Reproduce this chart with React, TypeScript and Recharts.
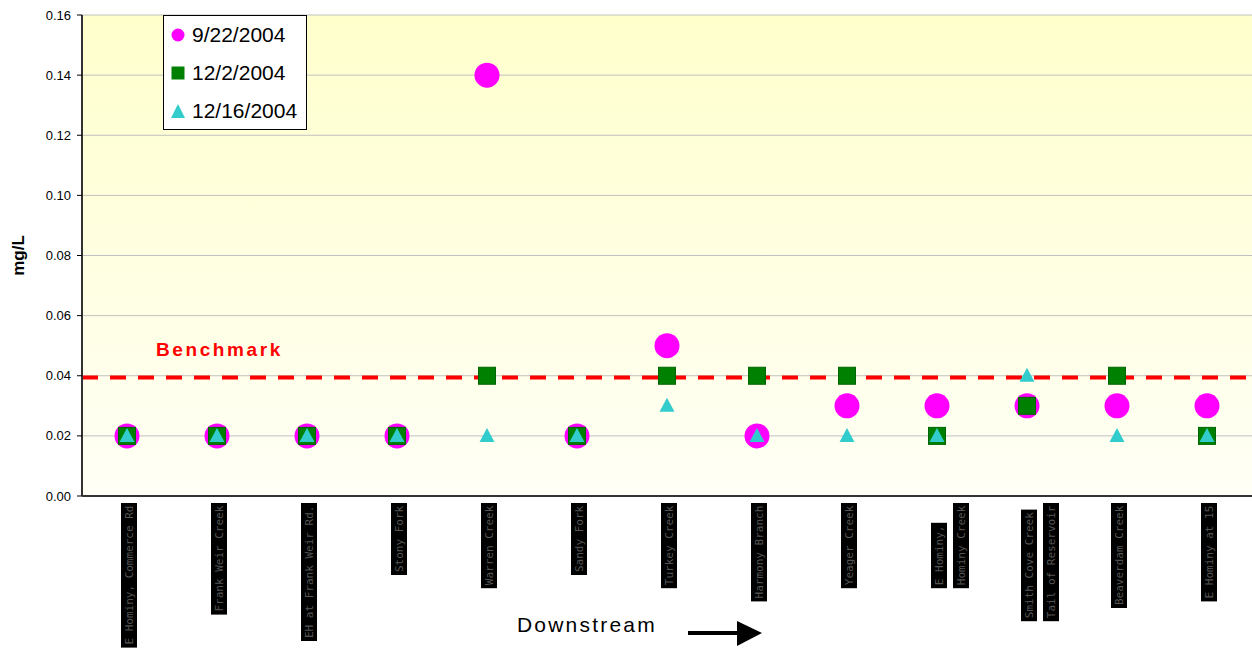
import React from "react";
import { CartesianGrid, ComposedChart, Legend, ReferenceLine, Scatter, XAxis, YAxis } from "recharts";

// sampling sites, upstream -> downstream ("\n" = second label column)
const sites = [
  "E Hominy, Commerce Rd",
  "Frank Weir Creek",
  "EH at Frank Weir Rd.",
  "Stony Fork",
  "Warren Creek",
  "Sandy Fork",
  "Turkey Creek",
  "Harmony Branch",
  "Yeager Creek",
  "E Hominy,\nHominy Creek",
  "Smith Cove Creek\nTail of Reservoir",
  "Beaverdam Creek",
  "E Hominy at 15",
];

const sept22 = [0.02, 0.02, 0.02, 0.02, 0.14, 0.02, 0.05, 0.02, 0.03, 0.03, 0.03, 0.03, 0.03];
const dec2 = [0.02, 0.02, 0.02, 0.02, 0.04, 0.02, 0.04, 0.04, 0.04, 0.02, 0.03, 0.04, 0.02];
const dec16 = [0.02, 0.02, 0.02, 0.02, 0.02, 0.02, 0.03, 0.02, 0.02, 0.02, 0.04, 0.02, 0.02];

const yTicks = [0, 0.02, 0.04, 0.06, 0.08, 0.1, 0.12, 0.14, 0.16];
const benchmark = 0.0394;

const data = sites.map((site, i) => ({
  site,
  sept22: sept22[i],
  dec2: dec2[i],
  dec16: dec16[i],
}));

const FONT = "'Liberation Sans', Arial, sans-serif";

const CircleDot = (p: any) => <circle cx={p.cx} cy={p.cy} r={12.5} fill="#FF00FF" />;
const SquareDot = (p: any) => (
  <rect x={p.cx - 8.5} y={p.cy - 8.5} width={17} height={17} fill="#008000" stroke="#006400" strokeWidth={1} />
);
const TriangleDot = (p: any) => (
  <polygon
    points={`${p.cx},${p.cy - 8} ${p.cx - 7.5},${p.cy + 6} ${p.cx + 7.5},${p.cy + 6}`}
    fill="#33CCCC"
  />
);

const series = [
  { key: "sept22", name: "9/22/2004", shape: CircleDot },
  { key: "dec2", name: "12/2/2004", shape: SquareDot },
  { key: "dec16", name: "12/16/2004", shape: TriangleDot },
];

const SiteTick = (props: any) => {
  const { x, y, payload } = props;
  const lines = String(payload.value).split("\n");
  const lens = lines.map((l) => l.length * 6.6 + 6);
  const tallest = Math.max(...lens);
  const bottom = y + 7 + tallest;
  return (
    <g>
      {lines.map((line, i) => {
        const cx = x + 2 + i * 22;
        const h = lens[i];
        return (
          <g key={i}>
            <rect x={cx - 8} y={bottom - h} width={16} height={h} fill="#000" />
            <text
              transform={`translate(${cx},${bottom - 3}) rotate(-90)`}
              dominantBaseline="central"
              fill="#555"
              fontSize={11}
              fontFamily="'DejaVu Sans Mono', monospace"
            >
              {line}
            </text>
          </g>
        );
      })}
    </g>
  );
};

const LegendBox = () => (
  <div
    style={{
      width: 142,
      height: 113,
      border: "1px solid #000",
      background: "#fff",
      fontFamily: FONT,
      fontSize: 21,
      boxSizing: "content-box",
    }}
  >
    {series.map((s, i) => (
      <div key={s.key} style={{ height: 38, display: "flex", alignItems: "center" }}>
        <svg width={28} height={20}>
          {i === 0 && <circle cx={14} cy={10} r={6.5} fill="#FF00FF" />}
          {i === 1 && <rect x={7.5} y={3.5} width={13} height={13} fill="#008000" />}
          {i === 2 && <polygon points="14,3 7,17 21,17" fill="#33CCCC" />}
        </svg>
        <span>{s.name}</span>
      </div>
    ))}
  </div>
);

export default function App() {
  return (
    <div style={{ position: "absolute", left: 0, top: 0, width: 1252, height: 652, background: "#fff" }}>
      <svg width={0} height={0} style={{ position: "absolute" }}>
        <defs>
          <linearGradient id="plotBg" x1="0" y1="0" x2="0" y2="1">
            <stop offset="0%" stopColor="#FFFFCC" />
            <stop offset="100%" stopColor="#FFFFF6" />
          </linearGradient>
        </defs>
      </svg>
      <ComposedChart
        width={1252}
        height={652}
        data={data}
        margin={{ top: 15, right: 0, left: 0, bottom: 0 }}
        style={{ fontFamily: FONT }}
      >
        <CartesianGrid vertical={false} stroke="#C0C0C0" fill="url(#plotBg)" fillOpacity={1} />
        <XAxis
          dataKey="site"
          type="category"
          height={156}
          interval={0}
          padding={{ left: 45, right: 45 }}
          tickLine={false}
          tickSize={0}
          tickMargin={0}
          axisLine={{ stroke: "#333", strokeWidth: 2 }}
          tick={<SiteTick />}
        />
        <YAxis
          width={82}
          domain={[0, 0.16]}
          ticks={yTicks}
          interval={0}
          tickFormatter={(v: number) => v.toFixed(2)}
          tick={{ fill: "#000", fontSize: 13 }}
          tickSize={5}
          tickMargin={6}
          tickLine={{ stroke: "#000" }}
          axisLine={{ stroke: "#333", strokeWidth: 2 }}
          label={(p: any) => (
            <text
              transform={`translate(${p.viewBox.x + 18},${p.viewBox.y + p.viewBox.height / 2}) rotate(-90)`}
              textAnchor="middle"
              dominantBaseline="central"
              fontWeight="bold"
              fontSize={17}
              fill="#000"
            >
              mg/L
            </text>
          )}
        />
        <ReferenceLine
          y={benchmark}
          stroke="#FF0000"
          strokeWidth={4}
          strokeDasharray="16 12"
          label={(p: any) => (
            <text
              x={p.viewBox.x + 74}
              y={p.viewBox.y - 22}
              fill="#FF0000"
              fontWeight="bold"
              fontSize={19}
              letterSpacing={2.6}
            >
              Benchmark
            </text>
          )}
        />
        {series.map((s) => (
          <Scatter
            key={s.key}
            dataKey={s.key}
            name={s.name}
            shape={s.shape}
            isAnimationActive={false}
          />
        ))}
        <Legend
          layout="vertical"
          align="center"
          verticalAlign="middle"
          content={() => <LegendBox />}
          wrapperStyle={{ position: "absolute", left: 163, top: 15, width: 144, height: 115 }}
        />
      </ComposedChart>
      <div
        style={{
          position: "absolute",
          left: 517,
          top: 613,
          fontFamily: FONT,
          fontSize: 21,
          letterSpacing: 2.2,
          color: "#000",
        }}
      >
        Downstream
      </div>
      <svg width={80} height={30} style={{ position: "absolute", left: 686, top: 619 }}>
        <rect x={2} y={12} width={52} height={4} fill="#000" />
        <polygon points="51,2 76,14 51,27" fill="#000" />
      </svg>
    </div>
  );
}
